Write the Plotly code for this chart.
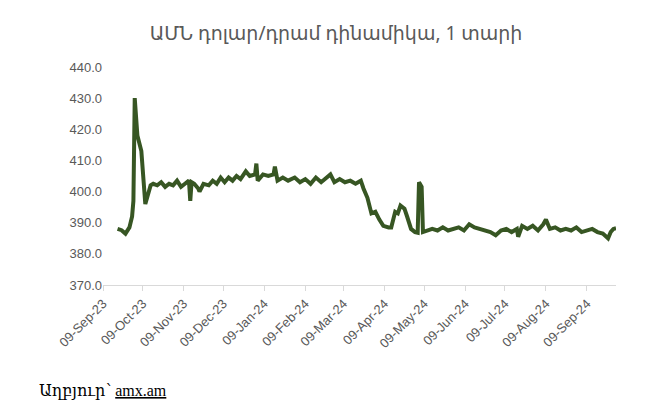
import plotly.graph_objects as go

dates = ['2023-09-20', '2023-09-23', '2023-09-26', '2023-09-29', '2023-10-01', '2023-10-02', '2023-10-03',
         '2023-10-05', '2023-10-08', '2023-10-10', '2023-10-11', '2023-10-13', '2023-10-15', '2023-10-17',
         '2023-10-20', '2023-10-23', '2023-10-26', '2023-10-29', '2023-11-01', '2023-11-04', '2023-11-07',
         '2023-11-10', '2023-11-13', '2023-11-14', '2023-11-15', '2023-11-17', '2023-11-20', '2023-11-21',
         '2023-11-24', '2023-11-28', '2023-12-01', '2023-12-04', '2023-12-07', '2023-12-10', '2023-12-13',
         '2023-12-16', '2023-12-19', '2023-12-22', '2023-12-26', '2023-12-29', '2024-01-02', '2024-01-03',
         '2024-01-04', '2024-01-08', '2024-01-12', '2024-01-16', '2024-01-17', '2024-01-19', '2024-01-23',
         '2024-01-27', '2024-02-01', '2024-02-05', '2024-02-09', '2024-02-13', '2024-02-17', '2024-02-21',
         '2024-02-25', '2024-02-28', '2024-03-02', '2024-03-06', '2024-03-10', '2024-03-14', '2024-03-18',
         '2024-03-22', '2024-03-24', '2024-03-27', '2024-03-30', '2024-04-02', '2024-04-05', '2024-04-08',
         '2024-04-12', '2024-04-14', '2024-04-17', '2024-04-19', '2024-04-21', '2024-04-24', '2024-04-26',
         '2024-04-29', '2024-05-02', '2024-05-04', '2024-05-05', '2024-05-07', '2024-05-08', '2024-05-11',
         '2024-05-15', '2024-05-19', '2024-05-23', '2024-05-27', '2024-05-31', '2024-06-04', '2024-06-08',
         '2024-06-12', '2024-06-16', '2024-06-20', '2024-06-24', '2024-06-28', '2024-07-02', '2024-07-06',
         '2024-07-10', '2024-07-14', '2024-07-18', '2024-07-19', '2024-07-22', '2024-07-26', '2024-07-30',
         '2024-08-03', '2024-08-07', '2024-08-09', '2024-08-12', '2024-08-16', '2024-08-20', '2024-08-24',
         '2024-08-28', '2024-09-01', '2024-09-05', '2024-09-09', '2024-09-13', '2024-09-17', '2024-09-21',
         '2024-09-25', '2024-09-27', '2024-09-29', '2024-10-01']
usd_amd = [388.0, 387.6, 386.5, 388.5, 392.0, 397.0, 430.0,
           418.0, 413.0, 400.0, 396.0, 399.0, 402.0, 402.5,
           402.0, 403.0, 401.5, 402.5, 402.0, 403.5, 401.5,
           402.5, 403.5, 397.0, 403.0, 402.5, 401.0, 400.0,
           402.5, 402.0, 403.5, 402.5, 404.5, 403.0, 404.5,
           403.5, 405.0, 404.0, 406.5, 405.0, 405.5, 409.0,
           403.5, 405.5, 405.0, 405.5, 408.0, 403.5, 404.5,
           403.5, 404.5, 403.0, 404.0, 402.5, 404.5, 403.0,
           404.5, 405.5, 403.0, 404.0, 403.0, 403.5, 402.5,
           403.5, 401.0, 398.0, 393.0, 393.5, 391.0, 389.0,
           388.5, 388.5, 393.5, 393.0, 395.5, 394.5, 392.0,
           388.0, 387.0, 386.8, 403.0, 401.5, 387.0, 387.5,
           388.0, 387.5, 388.5, 387.5, 388.0, 388.5, 387.5,
           389.5, 388.5, 388.0, 387.5, 387.0, 386.0, 387.5,
           388.0, 387.0, 388.0, 385.5, 389.0, 388.0, 389.0,
           387.5, 389.5, 391.0, 388.0, 388.5, 387.5, 388.0,
           387.5, 388.5, 387.0, 387.5, 388.0, 387.0, 386.5,
           385.0, 387.0, 388.0, 388.2]
tick_dates = ['2023-09-09', '2023-10-09', '2023-11-09', '2023-12-09', '2024-01-09', '2024-02-09', '2024-03-09',
              '2024-04-09', '2024-05-09', '2024-06-09', '2024-07-09', '2024-08-09', '2024-09-09']
tick_labels = ['09-Sep-23', '09-Oct-23', '09-Nov-23', '09-Dec-23', '09-Jan-24', '09-Feb-24', '09-Mar-24',
               '09-Apr-24', '09-May-24', '09-Jun-24', '09-Jul-24', '09-Aug-24', '09-Sep-24']

fig = go.Figure(go.Scatter(x=dates, y=usd_amd, mode='lines',
                           line=dict(color='#375623', width=4), hoverinfo='skip'))

fig.update_layout(
    width=656, height=408,
    plot_bgcolor='white', paper_bgcolor='white',
    showlegend=False,
    font=dict(family='Liberation Sans, Arial', color='#595959', size=13),
    title=dict(text='ԱՄՆ դոլար/դրամ դինամիկա, 1 տարի', x=0.5, y=0.955, xanchor='center',
               font=dict(size=19, color='#595959', family='Noto Sans, DejaVu Sans')),
    margin=dict(l=95, r=48, t=59, b=131, autoexpand=False),
)
fig.update_xaxes(range=['2023-09-09', '2024-10-01'], tickvals=tick_dates, ticktext=tick_labels,
                 tickangle=-45, showgrid=False, showline=True, linecolor='#d9d9d9',
                 ticks='outside', tickcolor='#d9d9d9', ticklen=5, zeroline=False)
fig.update_yaxes(range=[370, 440], dtick=10, tickformat='.1f', showgrid=False,
                 showline=False, zeroline=False)

fig.add_annotation(text='Աղբյուր՝ <u>amx.am</u>', xref='paper', yref='paper', x=-0.128, y=-0.486,
                   xanchor='left', yanchor='middle', showarrow=False,
                   font=dict(family='Liberation Serif, DejaVu Serif', size=16, color='black'))

fig.write_html('out.html')
